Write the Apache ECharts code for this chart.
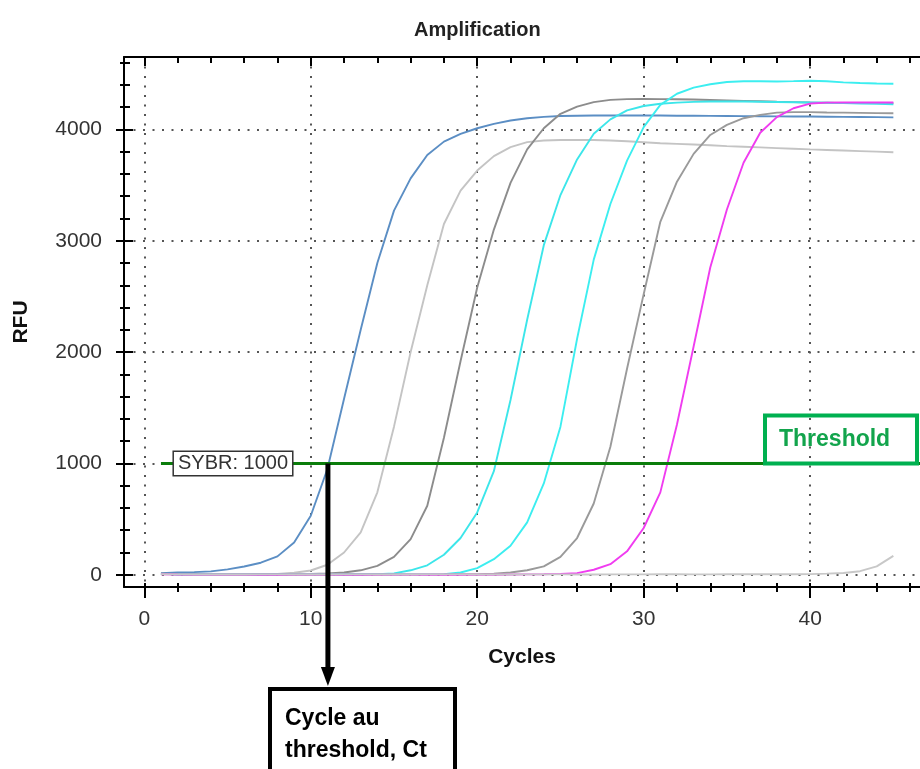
<!DOCTYPE html>
<html>
<head>
<meta charset="utf-8">
<title>Amplification</title>
<script src="https://cdn.jsdelivr.net/npm/echarts@6/dist/echarts.min.js"></script>
<style>
  html, body { margin: 0; padding: 0; background: #ffffff; }
  #chart { width: 920px; height: 769px; }
</style>
</head>
<body>
<div id="chart"></div>
<script>
  // cycles 1..45
  const cycles = [1, 2, 3, 4, 5, 6, 7, 8, 9, 10, 11, 12, 13, 14, 15, 16, 17, 18, 19, 20, 21, 22, 23,
    24, 25, 26, 27, 28, 29, 30, 31, 32, 33, 34, 35, 36, 37, 38, 39, 40, 41, 42, 43, 44, 45];

  // RFU values, one array per well
  const rfuBlue = [15, 20, 24, 30, 48, 74, 108, 165, 290, 530, 950, 1580, 2200, 2800, 3270, 3560, 3770, 3890,
    3960, 4010, 4050, 4080, 4100, 4112, 4120, 4122, 4124, 4125, 4125, 4124, 4124, 4123, 4122, 4121, 4120,
    4119, 4118, 4117, 4116, 4115, 4114, 4112, 4111, 4110, 4108];
  const rfuLightGray = [8, 4, 3, 3, 3, 4, 5, 8, 18, 38, 90, 200, 380, 740, 1330, 2000, 2600, 3150, 3450, 3630,
    3760, 3840, 3885, 3900, 3905, 3906, 3904, 3900, 3893, 3885, 3876, 3870, 3864, 3857, 3850, 3844, 3838,
    3832, 3826, 3820, 3815, 3810, 3805, 3800, 3795];
  const rfuDarkGray = [10, 5, 3, 3, 3, 3, 4, 5, 6, 8, 12, 20, 40, 80, 160, 320, 620, 1230, 1920, 2580, 3100,
    3520, 3820, 4010, 4140, 4205, 4245, 4265, 4272, 4273, 4272, 4270, 4268, 4264, 4260, 4256, 4252, 4248,
    4245, 4242, 4240, 4238, 4237, 4236, 4235];
  const rfuCyan1 = [8, 4, 2, 2, 2, 2, 2, 3, 3, 3, 3, 4, 4, 6, 12, 40, 85, 180, 330, 560, 930, 1570, 2290,
    2960, 3410, 3730, 3960, 4090, 4170, 4210, 4230, 4240, 4247, 4250, 4250, 4250, 4248, 4246, 4244, 4242,
    4239, 4236, 4233, 4230, 4226];
  const rfuCyan2 = [8, 4, 2, 2, 2, 2, 2, 2, 2, 2, 2, 2, 2, 3, 3, 3, 3, 5, 20, 60, 140, 260, 470, 820, 1330,
    2120, 2830, 3330, 3720, 4020, 4220, 4320, 4375, 4405, 4425, 4432, 4432, 4430, 4433, 4437, 4432, 4422,
    4416, 4412, 4410];
  const rfuGray = [8, 4, 2, 2, 2, 2, 2, 2, 2, 2, 2, 2, 2, 2, 2, 3, 3, 3, 4, 5, 10, 20, 40, 75, 160, 330, 640,
    1150, 1850, 2520, 3170, 3530, 3780, 3950, 4040, 4100, 4130, 4150, 4155, 4155, 4152, 4150, 4148, 4146,
    4145];
  const rfuMagenta = [5, 2, 0, 0, 0, 0, 0, 0, 0, 0, 0, 0, 0, 0, 0, 0, 0, 0, 0, 0, 0, 2, 3, 5, 8, 15, 45, 95,
    210, 420, 740, 1350, 2050, 2760, 3280, 3700, 3970, 4110, 4190, 4232, 4240, 4242, 4242, 4241, 4241];
  const rfuFlat = [5, 3, 2, 2, 2, 2, 3, 3, 2, 2, 2, 3, 3, 2, 2, 2, 3, 3, 3, 2, 2, 2, 3, 3, 3, 2, 2, 3, 3, 3,
    4, 4, 3, 3, 4, 4, 4, 5, 5, 6, 10, 16, 32, 75, 170];

  // threshold and Ct of the first well
  const threshold = 1000;
  const thresholdStart = 1;
  const ctCycle = 11.03;

  // tick values
  const xMajor = [0, 10, 20, 30, 40];
  const xMinor = [2, 4, 6, 8, 12, 14, 16, 18, 22, 24, 26, 28, 32, 34, 36, 38, 42, 44, 46];
  const yMajor = [0, 1000, 2000, 3000, 4000];
  const yMinor = [200, 400, 600, 800, 1200, 1400, 1600, 1800, 2200, 2400, 2600, 2800, 3200, 3400, 3600,
    3800, 4200, 4400, 4600];

  const xMin = -1.22, xMax = 46.6;
  const yMin = -110, yMax = 4650;
  const font = '"Liberation Sans", Arial, sans-serif';

  let chart = echarts.init(document.getElementById('chart'));

  // extra axes that only draw tick marks (crossing ticks, minor ticks, top frame)
  function tickAxis(position, min, max, values, len, inside, showLine) {
    return {
      type: 'value', position: position, min: min, max: max,
      axisLine: { show: !!showLine, onZero: false, lineStyle: { color: '#000', width: 2 } },
      axisTick: { show: true, inside: inside, length: len, customValues: values,
        lineStyle: { color: '#000', width: 2 } },
      axisLabel: { show: false },
      splitLine: { show: false }
    };
  }

  const wells = [
    { name: 'A1', color: '#5b8ec4', values: rfuBlue },
    { name: 'A2', color: '#c4c4c4', values: rfuLightGray },
    { name: 'A3', color: '#8c8c8c', values: rfuDarkGray },
    { name: 'A4', color: '#3ce6ea', values: rfuCyan1 },
    { name: 'A5', color: '#3ceef0', values: rfuCyan2 },
    { name: 'A6', color: '#9a9a9a', values: rfuGray },
    { name: 'A7', color: '#f03cf0', values: rfuMagenta },
    { name: 'A8', color: '#c8c8c8', values: rfuFlat }
  ];

  let series = wells.map(function (w) {
    return {
      name: w.name,
      type: 'line',
      showSymbol: false,
      smooth: false,
      lineStyle: { color: w.color, width: 1.9 },
      itemStyle: { color: w.color },
      data: cycles.map(function (c, i) { return [c, w.values[i]]; })
    };
  });

  // threshold line on top of the last curve
  series[series.length - 1].markLine = {
    silent: true,
    symbol: 'none',
    label: { show: false },
    lineStyle: { color: '#0b7d0b', width: 3, type: 'solid' },
    data: [[{ coord: [thresholdStart, threshold] }, { coord: [xMax, threshold] }]]
  };

  let plain = function (v) { return String(v); };

  let option = {
    animation: false,
    backgroundColor: '#ffffff',
    title: {
      text: 'Amplification',
      left: 409,
      top: 15,
      textStyle: { fontFamily: font, fontSize: 20, fontWeight: 'bold', color: '#222' }
    },
    grid: { left: 124, top: 57, right: 0, bottom: 182 },
    xAxis: [
      {
        type: 'value', position: 'bottom', min: xMin, max: xMax,
        name: 'Cycles', nameLocation: 'middle', nameGap: 60,
        nameTextStyle: { fontFamily: font, fontSize: 21, fontWeight: 'bold', color: '#111' },
        axisLine: { show: true, onZero: false, lineStyle: { color: '#000', width: 2 } },
        axisTick: { show: true, length: 11, customValues: xMajor, lineStyle: { color: '#000', width: 2 } },
        axisLabel: { customValues: xMajor, formatter: plain, margin: 22, fontSize: 21, color: '#333', fontFamily: font },
        splitLine: { show: true, lineStyle: { color: '#555', width: 2, type: [2, 7.5] } }
      },
      tickAxis('bottom', xMin, xMax, xMinor, 5, false),
      tickAxis('bottom', xMin, xMax, xMajor.concat(xMinor), 4, true),
      tickAxis('top', xMin, xMax, xMajor, 9, true, true),
      tickAxis('top', xMin, xMax, xMinor, 6, true)
    ],
    yAxis: [
      {
        type: 'value', position: 'left', min: yMin, max: yMax,
        name: 'RFU', nameLocation: 'middle', nameGap: 92, nameRotate: 90,
        nameTextStyle: { fontFamily: font, fontSize: 21, fontWeight: 'bold', color: '#111' },
        axisLine: { show: true, onZero: false, lineStyle: { color: '#000', width: 2 } },
        axisTick: { show: true, length: 8, customValues: yMajor, lineStyle: { color: '#000', width: 2 } },
        axisLabel: { customValues: yMajor, formatter: plain, margin: 22, fontSize: 21, color: '#333', fontFamily: font },
        splitLine: { show: true, lineStyle: { color: '#555', width: 2, type: [2, 7.5] } }
      },
      tickAxis('left', yMin, yMax, yMinor, 4, false),
      tickAxis('left', yMin, yMax, yMajor, 9, true),
      tickAxis('left', yMin, yMax, yMinor, 6, true)
    ],
    series: series
  };
  chart.setOption(option);

  // annotations, placed from the data coordinates
  let pt = chart.convertToPixel({ xAxisIndex: 0, yAxisIndex: 0 }, [ctCycle, threshold]);
  let st = chart.convertToPixel({ xAxisIndex: 0, yAxisIndex: 0 }, [thresholdStart, threshold]);

  chart.setOption({
    graphic: [
      {
        type: 'text', z: 100, x: st[0] + 13, y: st[1],
        style: {
          text: 'SYBR: ' + threshold, font: '20px ' + font, fill: '#333',
          verticalAlign: 'middle', backgroundColor: '#fff', borderColor: '#333', borderWidth: 1.5,
          padding: [2, 4, 1, 4]
        }
      },
      {
        type: 'rect', z: 100,
        shape: { x: 765, y: pt[1] - 48, width: 152, height: 48 },
        style: { fill: 'none', stroke: '#00b050', lineWidth: 4 }
      },
      {
        type: 'text', z: 100, x: 779, y: pt[1] - 24,
        style: { text: 'Threshold', font: 'bold 23px ' + font, fill: '#12a44c', verticalAlign: 'middle' }
      },
      {
        type: 'line', z: 100,
        shape: { x1: pt[0], y1: pt[1], x2: pt[0], y2: 670 },
        style: { stroke: '#000', lineWidth: 5 }
      },
      {
        type: 'polygon', z: 100,
        shape: { points: [[pt[0] - 7, 667], [pt[0] + 7, 667], [pt[0], 686]] },
        style: { fill: '#000' }
      },
      {
        type: 'rect', z: 100,
        shape: { x: 270, y: 689, width: 185, height: 100 },
        style: { fill: '#fff', stroke: '#000', lineWidth: 4 }
      },
      {
        type: 'text', z: 101, x: 285, y: 703,
        style: { text: 'Cycle au\nthreshold, Ct', font: 'bold 23px ' + font, fill: '#000', lineHeight: 32 }
      }
    ]
  });

  window.addEventListener('resize', function () {
    chart.resize();
  });
</script>
</body>
</html>
